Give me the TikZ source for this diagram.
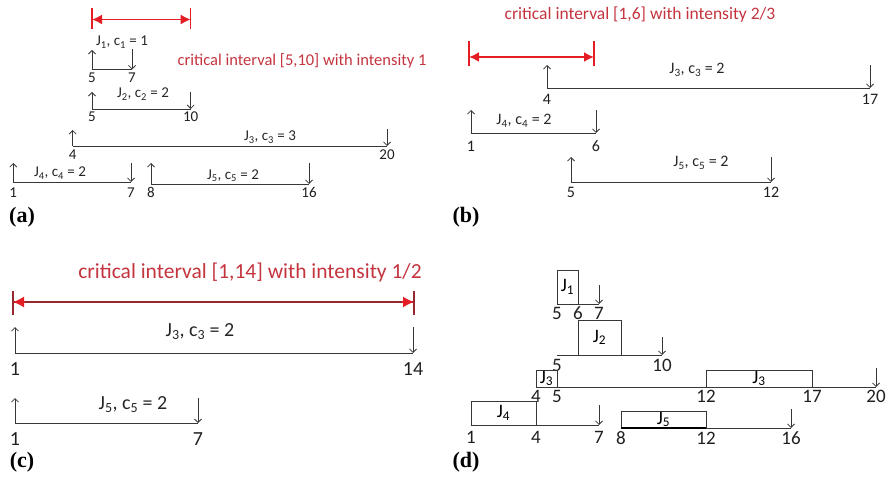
\documentclass[tikz,border=0pt]{standalone}
\usepackage{fontspec}
\setmainfont{Carlito}
\newfontfamily\capfont{Liberation Serif}
\usetikzlibrary{arrows.meta,calc}
\definecolor{lngray}{RGB}{55,55,55}
\definecolor{txtred}{RGB}{196,52,62}
\definecolor{arrred}{RGB}{228,28,36}
\definecolor{shaftred}{RGB}{150,40,45}
\tikzset{
  ln/.style={draw=lngray, line width=0.9pt},
  tip/.style={-{Straight Barb[length=3.5pt,width=7pt,line width=0.8pt]}},
  num/.style={anchor=base, inner sep=0pt, text=black!88},
  lab/.style={anchor=base, inner sep=0pt, text=black!85},
  redtxt/.style={anchor=base, inner sep=0pt, text=txtred},
  redarr/.style={draw=arrred, line width=1.7pt, {Latex[length=10pt,width=10pt]}-{Latex[length=10pt,width=10pt]}},
  redtick/.style={draw=arrred, line width=1.3pt},
  panel/.style={anchor=center, inner sep=0pt, font=\capfont\bfseries\fontsize{22}{24}\selectfont},
  jbox/.style={draw=lngray, line width=0.9pt},
}
% name, x1, x2, ybase, ytop-left, ytop-right
\newcommand\jobint[6]{%
  \coordinate (#1r) at (#2,#4); \coordinate (#1d) at (#3,#4);
  \coordinate (#1rt) at (#2,#5); \coordinate (#1dt) at (#3,#6);
  \draw[ln] (#1r) -- (#1d);
  \draw[ln,tip] (#1r) -- (#1rt);
  \draw[ln,tip] (#1dt) -- (#1d);
}
% name, x1, x2, ybase, ytop (deadline arrow only)
\newcommand\jobdl[5]{%
  \coordinate (#1r) at (#2,#4); \coordinate (#1d) at (#3,#4);
  \coordinate (#1dt) at (#3,#5);
  \draw[ln] (#1r) -- (#1d);
  \draw[ln,tip] (#1dt) -- (#1d);
}
\begin{document}
\begin{tikzpicture}[x=1pt,y=-1pt]
\useasboundingbox (0,0) rectangle (888,481);
% ================= (a) =================
\begin{scope}[font=\fontsize{15}{17}\selectfont]
\coordinate (aL) at (92,19.5); \coordinate (aR) at (190.7,19.5);
\draw[redtick] (92,8) -- (92,29);
\draw[redtick] (190.7,8) -- (190.7,29);
\draw[redarr] (aL) -- (aR);
\node[redtxt, font=\fontsize{16.5}{18}\selectfont] (ared) at (302,66) {critical interval [5,10] with intensity 1};
\jobint{aj1}{92}{132}{69.5}{50}{49}
\node[lab] (aj1l) at (122,46) {J\textsubscript{1}, c\textsubscript{1} = 1};
\node[num] at (92,83) {5}; \node[num] at (132,83) {7};
\jobint{aj2}{92}{190.7}{109}{92}{92}
\node[lab] (aj2l) at (143,98) {J\textsubscript{2}, c\textsubscript{2} = 2};
\node[num] at (92,122) {5}; \node[num] at (190.7,122) {10};
\jobint{aj3}{72.7}{387}{146}{130}{129}
\node[lab] (aj3l) at (270,141) {J\textsubscript{3}, c\textsubscript{3} = 3};
\node[num] at (72.7,160) {4}; \node[num] at (387,160) {20};
\jobint{aj4}{13.3}{131}{182}{163}{163}
\node[lab] (aj4l) at (60,177) {J\textsubscript{4}, c\textsubscript{4} = 2};
\node[num] at (13.3,197) {1}; \node[num] at (131,197) {7};
\jobint{aj5}{151}{309}{184}{163}{163}
\node[lab] (aj5l) at (233,179) {J\textsubscript{5}, c\textsubscript{5} = 2};
\node[num] at (151,197) {8}; \node[num] at (309,197) {16};
\end{scope}
\node[panel] (pa) at (22,217) {(a)};
% ================= (b) =================
\begin{scope}[font=\fontsize{16}{18}\selectfont]
\node[redtxt, font=\fontsize{17.5}{19}\selectfont] (bred) at (640,20) {critical interval [1,6] with intensity 2/3};
\coordinate (bL) at (469,57); \coordinate (bR) at (594,57);
\draw[redtick] (469,41) -- (469,66);
\draw[redtick] (594,41) -- (594,66);
\draw[redarr] (bL) -- (bR);
\jobint{bj3}{547}{870}{88}{65}{65}
\node[lab] (bj3l) at (697,74) {J\textsubscript{3}, c\textsubscript{3} = 2};
\node[num] at (547,105) {4}; \node[num] at (870,105) {17};
\jobint{bj4}{471}{596}{133}{110}{110}
\node[lab] (bj4l) at (524,125) {J\textsubscript{4}, c\textsubscript{4} = 2};
\node[num] at (471,152) {1}; \node[num] at (596,152) {6};
\jobint{bj5}{571}{771}{182}{157}{157}
\node[lab] (bj5l) at (701,167) {J\textsubscript{5}, c\textsubscript{5} = 2};
\node[num] at (571,197) {5}; \node[num] at (771,197) {12};
\end{scope}
\node[panel] (pb) at (466,217) {(b)};
% ================= (c) =================
\begin{scope}[font=\fontsize{20}{22}\selectfont]
\node[redtxt, font=\fontsize{21.5}{23}\selectfont] (cred) at (250,278) {critical interval [1,14] with intensity 1/2};
\coordinate (cL) at (13,302); \coordinate (cR) at (414,302);
\coordinate (cLi) at (25,302); \coordinate (cRi) at (402,302);
\draw[draw=shaftred, line width=1.3pt] (13,291) -- (13,315);
\draw[draw=shaftred, line width=1.3pt] (414,291) -- (414,315);
\draw[draw=shaftred, line width=1.4pt] (cL) -- (cR);
\draw[draw=arrred, line width=1.4pt, {Latex[length=11pt,width=11pt]}-] (cL) -- (cLi);
\draw[draw=arrred, line width=1.4pt, -{Latex[length=11pt,width=11pt]}] (cRi) -- (cR);
\jobint{cj3}{15}{413}{353}{327}{327}
\node[lab] (cj3l) at (200,336) {J\textsubscript{3}, c\textsubscript{3} = 2};
\node[num] at (15,375) {1}; \node[num] at (413,375) {14};
\jobint{cj5}{15}{198}{423}{398}{398}
\node[lab] (cj5l) at (133,409) {J\textsubscript{5}, c\textsubscript{5} = 2};
\node[num] at (15,445) {1}; \node[num] at (198,445) {7};
\end{scope}
\node[panel] (pc) at (22,462) {(c)};
% ================= (d) =================
\begin{scope}[font=\fontsize{19}{21}\selectfont]
% J1
\node[jbox, minimum width=21pt, minimum height=34pt, inner sep=0pt] (dj1) at (567.5,287) {J\textsubscript{1}};
\jobdl{dl1}{557}{599}{304}{285}
\node[num] at (557,319) {5}; \node[num] at (578,319) {6}; \node[num] at (599,319) {7};
% J2
\node[jbox, minimum width=43pt, minimum height=35pt, inner sep=0pt] (dj2) at (599.5,337.5) {J\textsubscript{2}};
\jobdl{dl2}{557}{662}{355}{337}
\node[num] at (557,371) {5}; \node[num] at (662,371) {10};
% J3
\node[jbox, minimum width=21pt, minimum height=17pt, inner sep=0pt] (dj3a) at (546.5,378.5) {J\textsubscript{3}};
\node[jbox, minimum width=106pt, minimum height=17pt, inner sep=0pt] (dj3b) at (759,378.5) {J\textsubscript{3}};
\jobdl{dl3}{536}{876}{387}{368}
\node[num] at (536,402) {4}; \node[num] at (557,402) {5}; \node[num] at (706,402) {12};
\node[num] at (812,402) {17}; \node[num] at (876,402) {20};
% J4
\node[jbox, minimum width=65pt, minimum height=24pt, inner sep=0pt] (dj4) at (503.5,413) {J\textsubscript{4}};
\jobdl{dl4}{471}{599}{425}{405}
\node[num] at (471,443) {1}; \node[num] at (536,443) {4}; \node[num] at (599,443) {7};
% J5
\node[jbox, minimum width=85pt, minimum height=17pt, inner sep=0pt] (dj5) at (663.5,419.5) {J\textsubscript{5}};
\jobdl{dl5}{621}{791}{428}{409}
\draw[draw=black, line width=1.3pt] (dl5r) -- (706,428);
\node[num] at (621,444) {8}; \node[num] at (706,444) {12}; \node[num] at (791,444) {16};
\end{scope}
\node[panel] (pd) at (466,462) {(d)};
\end{tikzpicture}
\end{document}
